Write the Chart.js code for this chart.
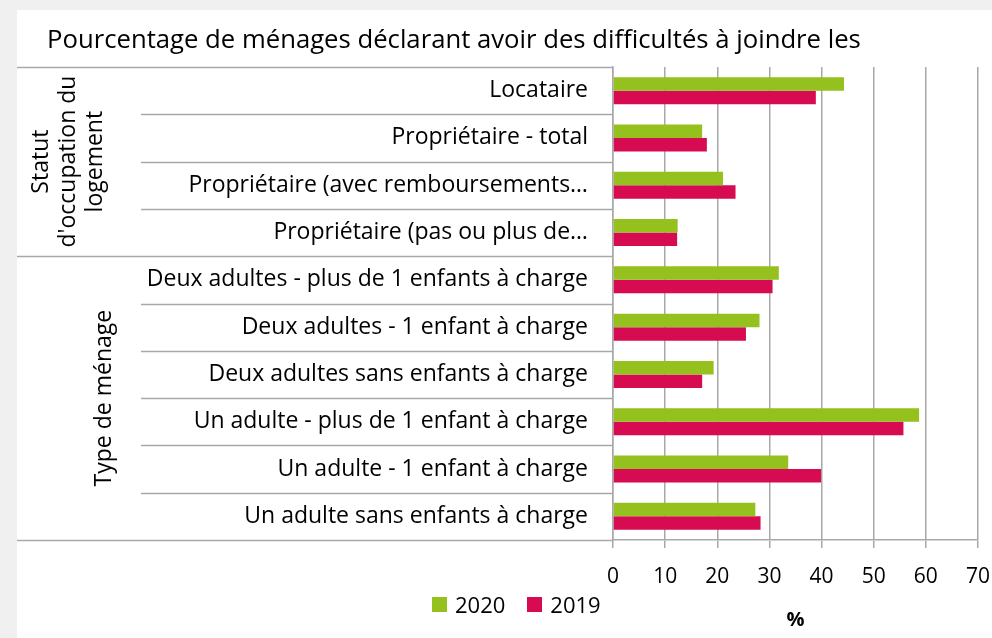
<!DOCTYPE html>
<html>
<head>
<meta charset="utf-8">
<script src="https://cdn.jsdelivr.net/npm/chart.js@4.4.1/dist/chart.umd.min.js"></script>
<style>
  html, body { margin: 0; padding: 0; background: #f0f0f0; }
  body { width: 992px; height: 638px; position: relative; overflow: hidden; font-family: "Open Sans", sans-serif; }
  #panel { position: absolute; left: 17px; top: 10px; width: 975px; height: 628px; background: #fff; }
  #title { position: absolute; left: 30px; top: 14px; font-size: 25.7px; line-height: 30px; color: #000; white-space: nowrap; }
  #legend { position: absolute; left: 415px; top: 579px; display: flex; font-size: 22px; line-height: 30px; color: #000; }
  #legend span.item { display: flex; align-items: center; margin-right: 22px; }
  #legend i { display: inline-block; width: 15px; height: 15px; margin-right: 8px; }
  #wrap { position: absolute; left: 0; top: 0; width: 975px; height: 628px; }
</style>
</head>
<body>
<div id="panel">
  <div id="wrap"><canvas id="chart"></canvas></div>
  <div id="title">Pourcentage de ménages déclarant avoir des difficultés à joindre les</div>
  <div id="legend"></div>
</div>
<script>
// données (en %)
const categories = [
  'Locataire',
  'Propriétaire - total',
  'Propriétaire (avec remboursements…',
  'Propriétaire (pas ou plus de…',
  'Deux adultes - plus de 1 enfants à charge',
  'Deux adultes - 1 enfant à charge',
  'Deux adultes sans enfants à charge',
  'Un adulte - plus de 1 enfant à charge',
  'Un adulte - 1 enfant à charge',
  'Un adulte sans enfants à charge'
];
const values2020 = [44.3, 17.1, 21.1, 12.4, 31.8, 28.1, 19.3, 58.7, 33.6, 27.3];
const values2019 = [38.9, 18.0, 23.5, 12.3, 30.6, 25.5, 17.1, 55.7, 39.9, 28.3];
const seriesNames = ['2020', '2019'];

// regroupement des catégories (axe à deux niveaux)
const groupLabels = [['Statut', "d'occupation du", 'logement'], ['Type de ménage']];
const groupFirst = [0, 4];
const groupLast = [3, 9];

const GREEN = '#95c11f';
const PINK = '#d70b52';
const LINE = '#a8a8a8';
const FONT = '"Open Sans", sans-serif';

// lignes de séparation + libellés de groupe verticaux
const groupAxis = {
  id: 'groupAxis',
  afterDraw(chart) {
    const { ctx } = chart;
    const y = chart.scales.y;
    const axisX = y.right;
    ctx.save();
    ctx.strokeStyle = LINE;
    ctx.lineWidth = 1.5;
    for (let i = 0; i <= categories.length; i++) {
      const py = Math.round(y.getPixelForValue(i - 0.5)) + 0.5;
      const edge = groupFirst.includes(i) || groupLast.map(v => v + 1).includes(i);
      ctx.beginPath();
      ctx.moveTo(edge ? 0 : 124, py);
      ctx.lineTo(axisX, py);
      ctx.stroke();
    }
    ctx.fillStyle = '#000';
    ctx.font = '23px ' + FONT;
    ctx.textAlign = 'center';
    ctx.textBaseline = 'middle';
    const groupX = [51, 87];
    groupLabels.forEach((lines, g) => {
      const cy = (y.getPixelForValue(groupFirst[g] - 0.5) + y.getPixelForValue(groupLast[g] + 0.5)) / 2;
      ctx.save();
      ctx.translate(groupX[g], cy);
      ctx.rotate(-Math.PI / 2);
      lines.forEach((t, k) => ctx.fillText(t, 0, (k - (lines.length - 1) / 2) * 27));
      ctx.restore();
    });
    ctx.restore();
  }
};

const chart = new Chart(document.getElementById('chart'), {
  type: 'bar',
  data: {
    labels: categories,
    datasets: [
      { label: seriesNames[0], data: values2020, backgroundColor: GREEN },
      { label: seriesNames[1], data: values2019, backgroundColor: PINK }
    ]
  },
  options: {
    indexAxis: 'y',
    responsive: true,
    maintainAspectRatio: false,
    animation: false,
    datasets: { bar: { categoryPercentage: 0.57, barPercentage: 1 } },
    layout: { padding: { top: 57, right: 0, left: 0, bottom: 0 } },
    plugins: {
      legend: { display: false },
      tooltip: { enabled: false },
      title: { display: false }
    },
    scales: {
      x: {
        min: 0, max: 70,
        ticks: { stepSize: 10, color: '#000', font: { family: FONT, size: 21 }, padding: 16 },
        grid: { color: LINE, lineWidth: 1.5, tickLength: 8 },
        border: { color: LINE, width: 1.5 },
        title: { display: true, text: '%', color: '#000', font: { family: FONT, size: 20, weight: 'bold' }, padding: { top: 0, bottom: 6 } },
        afterFit: s => { s.height = 98; s.paddingRight = 14; }
      },
      y: {
        ticks: { color: '#000', font: { family: FONT, size: 23 }, padding: 17, autoSkip: false },
        grid: { display: false },
        border: { color: LINE, width: 1.5 },
        afterFit: s => { s.width = 596; }
      }
    }
  },
  plugins: [groupAxis]
});

// légende en HTML, construite à partir des séries
document.getElementById('legend').innerHTML = chart.data.datasets
  .map(d => `<span class="item"><i style="background:${d.backgroundColor}"></i>${d.label}</span>`)
  .join('');
</script>
</body>
</html>
